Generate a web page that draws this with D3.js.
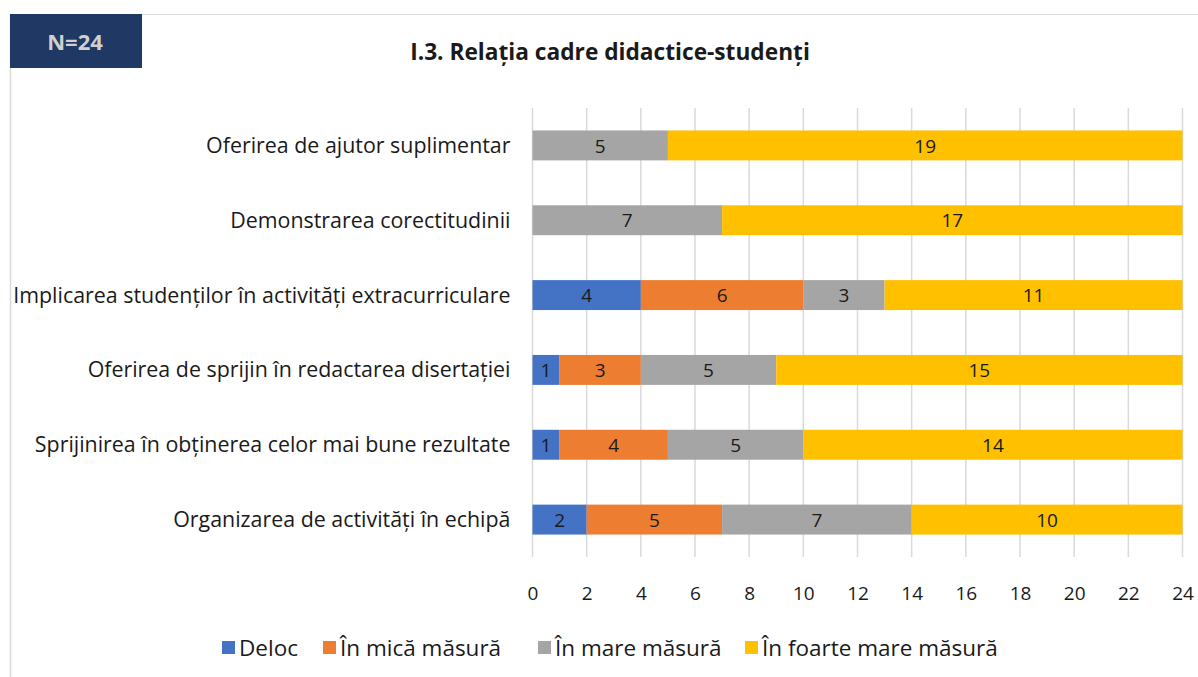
<!DOCTYPE html>
<html>
<head>
<meta charset="utf-8">
<script src="https://cdn.jsdelivr.net/npm/d3@7"></script>
<style>
  body { margin: 0; background: #fff; }
  text { font-family: "Open Sans", Lato, sans-serif; fill: #1a1a1a; }
</style>
</head>
<body>
<div id="wrapper"></div>
<script>
var categories = [
    "Oferirea de ajutor suplimentar",
    "Demonstrarea corectitudinii",
    "Implicarea studenților în activități extracurriculare",
    "Oferirea de sprijin în redactarea disertației",
    "Sprijinirea în obținerea celor mai bune rezultate",
    "Organizarea de activități în echipă"
]
var seriesNames = ["Deloc", "În mică măsură", "În mare măsură", "În foarte mare măsură"]
var deloc = [0, 0, 4, 1, 1, 2]
var mica = [0, 0, 6, 3, 4, 5]
var mare = [5, 7, 3, 5, 5, 7]
var foarteMare = [19, 17, 11, 15, 14, 10]
var xTicks = [0, 2, 4, 6, 8, 10, 12, 14, 16, 18, 20, 22, 24]
var colors = ["#4472C4", "#ED7D31", "#A5A5A5", "#FFC000"]

function draw(){
    var width = 1198
    var height = 677
    var svg = d3.select("#wrapper").append("svg")
        .attr("width", width)
        .attr("height", height)

    // frame
    svg.append("line").attr("x1", 10).attr("x2", width).attr("y1", 14.5).attr("y2", 14.5)
        .attr("stroke", "#d9d9d9").attr("stroke-width", 1)
    svg.append("line").attr("x1", 10.5).attr("x2", 10.5).attr("y1", 14).attr("y2", height)
        .attr("stroke", "#d9d9d9").attr("stroke-width", 1.5)

    // N box
    svg.append("rect").attr("x", 10).attr("y", 14).attr("width", 132).attr("height", 54)
        .attr("fill", "#1F3864")
    svg.append("text").attr("x", 75).attr("y", 50).attr("text-anchor", "middle")
        .style("font-size", "22px").style("font-weight", "bold").style("fill", "#d0d0d0")
        .text("N=24")

    svg.append("text").attr("x", 610).attr("y", 60).attr("text-anchor", "middle")
        .style("font-size", "22.7px").style("font-weight", "bold")
        .text("I.3. Relația cadre didactice-studenți")

    var x = d3.scaleLinear().domain([0, 24]).range([532.5, 1182.5])
    var y = d3.scaleBand().domain(categories).range([108, 557])
        .paddingInner(0.6).paddingOuter(0.3)

    // grid
    svg.append("g").selectAll("line").data(xTicks).join("line")
        .attr("x1", d => x(d)).attr("x2", d => x(d))
        .attr("y1", 108).attr("y2", 557)
        .attr("stroke", "#d9d9d9").attr("stroke-width", 1.5)

    var xAxis = d3.axisBottom(x).tickValues(xTicks).tickSize(0).tickPadding(0)
    var ax = svg.append("g").attr("transform", "translate(0,600)").call(xAxis)
    ax.select(".domain").remove()
    ax.selectAll("text").style("font-size", "19px").attr("dy", 0)

    var yAxis = d3.axisLeft(y).tickSize(0).tickPadding(22)
    var ay = svg.append("g").attr("transform", "translate(532.5,0)").call(yAxis)
    ay.select(".domain").remove()
    ay.selectAll("text").style("font-size", "21.4px").attr("dy", "0.35em")

    var rows = categories.map((c, i) => ({cat: c, vals: [deloc[i], mica[i], mare[i], foarteMare[i]]}))
    var segs = []
    rows.forEach(r => {
        var acc = 0
        r.vals.forEach((v, k) => {
            segs.push({cat: r.cat, k: k, v: v, x0: acc, x1: acc + v})
            acc += v
        })
    })
    segs = segs.filter(s => s.v > 0)

    svg.append("g").selectAll("rect").data(segs).join("rect")
        .attr("x", d => x(d.x0)).attr("width", d => x(d.x1) - x(d.x0))
        .attr("y", d => y(d.cat)).attr("height", y.bandwidth())
        .attr("fill", d => colors[d.k])

    svg.append("g").selectAll("text").data(segs).join("text")
        .attr("x", d => (x(d.x0) + x(d.x1)) / 2)
        .attr("y", d => y(d.cat) + y.bandwidth() / 2)
        .attr("dy", "0.38em").attr("text-anchor", "middle")
        .style("font-size", "19px")
        .text(d => d.v)

    // legend
    var legX = [222, 323, 538, 745]
    var leg = svg.append("g").selectAll("g").data(seriesNames).join("g")
        .attr("transform", (d, i) => "translate(" + legX[i] + ",641)")
    leg.append("rect").attr("width", 13).attr("height", 13).attr("fill", (d, i) => colors[i])
    leg.append("text").attr("x", 17).attr("y", 7).attr("dy", "0.36em")
        .style("font-size", "22.5px").text(d => d)
}
draw()
</script>
</body>
</html>
